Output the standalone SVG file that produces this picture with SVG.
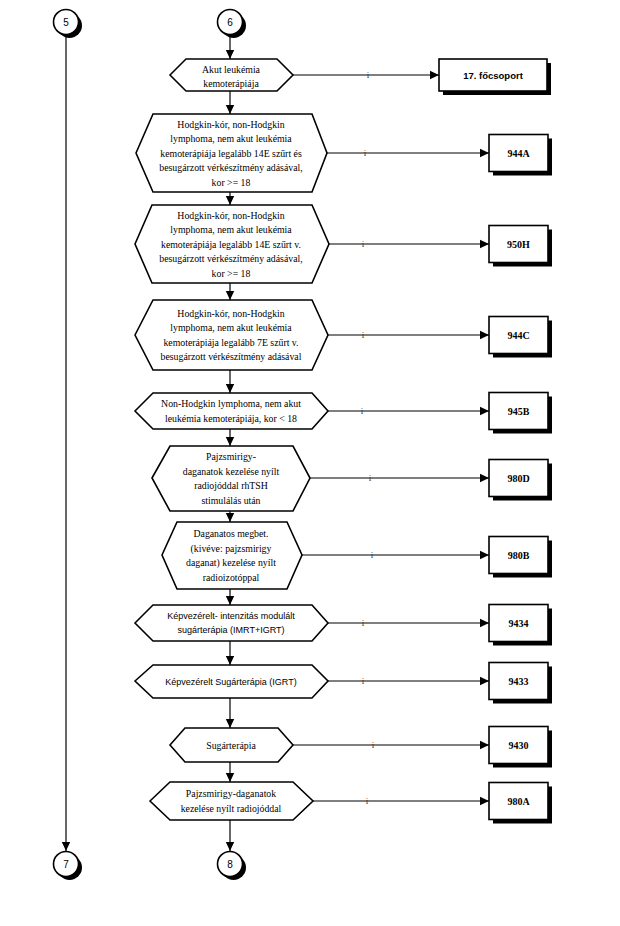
<svg xmlns="http://www.w3.org/2000/svg" width="620" height="926" viewBox="0 0 620 926">
<style>
.hex{fill:#fff;stroke:#000;stroke-width:1.6}
.box{fill:#fff;stroke:#000;stroke-width:1.6}
.sh{fill:#000}
.t{font-family:"Liberation Serif",serif;font-size:9.8px;fill:#000;text-anchor:middle}
.s{font-family:"Liberation Sans",sans-serif;font-size:9px;fill:#000;text-anchor:middle}
.b{font-family:"Liberation Serif",serif;font-size:10px;font-weight:bold;fill:#000;text-anchor:middle}
.bs{font-family:"Liberation Sans",sans-serif;font-size:9.5px;font-weight:bold;fill:#000;text-anchor:middle}
.c{font-family:"Liberation Sans",sans-serif;font-size:10px;fill:#000;text-anchor:middle}
.ln{stroke:#000;stroke-width:1.2;fill:none}
.i{font-family:"Liberation Serif",serif;font-size:9px;fill:#333;text-anchor:middle}
</style>
<defs>
<marker id="ah" markerUnits="userSpaceOnUse" markerWidth="10" markerHeight="10" refX="9" refY="5" orient="auto">
<path d="M0,0.8 L9,5 L0,9.2 Z" fill="#000"/>
</marker>
</defs>
<g id="connectors">
<line class="ln" x1="66" y1="35" x2="66" y2="851" marker-end="url(#ah)"/>
<line class="ln" x1="230" y1="35" x2="230" y2="59" marker-end="url(#ah)"/>
<line class="ln" x1="230" y1="91" x2="230" y2="114" marker-end="url(#ah)"/>
<line class="ln" x1="230" y1="192" x2="230" y2="205" marker-end="url(#ah)"/>
<line class="ln" x1="230" y1="283" x2="230" y2="300" marker-end="url(#ah)"/>
<line class="ln" x1="230" y1="370" x2="230" y2="393" marker-end="url(#ah)"/>
<line class="ln" x1="230" y1="429" x2="230" y2="446" marker-end="url(#ah)"/>
<line class="ln" x1="230" y1="511" x2="230" y2="522" marker-end="url(#ah)"/>
<line class="ln" x1="230" y1="589" x2="230" y2="605" marker-end="url(#ah)"/>
<line class="ln" x1="230" y1="641" x2="230" y2="665" marker-end="url(#ah)"/>
<line class="ln" x1="230" y1="698" x2="230" y2="728" marker-end="url(#ah)"/>
<line class="ln" x1="230" y1="762" x2="230" y2="782" marker-end="url(#ah)"/>
<line class="ln" x1="230" y1="820" x2="230" y2="851" marker-end="url(#ah)"/>
<line class="ln" x1="293" y1="75" x2="439" y2="75" marker-end="url(#ah)"/>
<line class="ln" x1="327" y1="153" x2="489" y2="153" marker-end="url(#ah)"/>
<line class="ln" x1="329" y1="244" x2="489" y2="244" marker-end="url(#ah)"/>
<line class="ln" x1="328" y1="335" x2="489" y2="335" marker-end="url(#ah)"/>
<line class="ln" x1="328" y1="411" x2="489" y2="411" marker-end="url(#ah)"/>
<line class="ln" x1="310" y1="478" x2="489" y2="478" marker-end="url(#ah)"/>
<line class="ln" x1="302" y1="555" x2="489" y2="555" marker-end="url(#ah)"/>
<line class="ln" x1="328" y1="623" x2="489" y2="623" marker-end="url(#ah)"/>
<line class="ln" x1="328" y1="681" x2="489" y2="681" marker-end="url(#ah)"/>
<line class="ln" x1="293" y1="745" x2="489" y2="745" marker-end="url(#ah)"/>
<line class="ln" x1="313" y1="801" x2="489" y2="801" marker-end="url(#ah)"/>
<text class="i" x="368" y="78">i</text>
<text class="i" x="365" y="156">i</text>
<text class="i" x="363" y="247">i</text>
<text class="i" x="363" y="338">i</text>
<text class="i" x="362" y="414">i</text>
<text class="i" x="370" y="481">i</text>
<text class="i" x="372" y="558">i</text>
<text class="i" x="363" y="626">i</text>
<text class="i" x="363" y="684">i</text>
<text class="i" x="373" y="748">i</text>
<text class="i" x="367" y="804">i</text>
</g>
<g id="c5"><circle class="sh" cx="69.5" cy="25.5" r="12.5"/><circle cx="66" cy="22" r="12.5" fill="#fff" stroke="#000" stroke-width="1.6"/><text class="c" x="66" y="25.5">5</text></g>
<g id="c6"><circle class="sh" cx="233.5" cy="25.5" r="12.5"/><circle cx="230" cy="22" r="12.5" fill="#fff" stroke="#000" stroke-width="1.6"/><text class="c" x="230" y="25.5">6</text></g>
<g id="c7"><circle class="sh" cx="69.5" cy="867.5" r="12.5"/><circle cx="66" cy="864" r="12.5" fill="#fff" stroke="#000" stroke-width="1.6"/><text class="c" x="66" y="867.5">7</text></g>
<g id="c8"><circle class="sh" cx="233.5" cy="867.5" r="12.5"/><circle cx="230" cy="864" r="12.5" fill="#fff" stroke="#000" stroke-width="1.6"/><text class="c" x="230" y="867.5">8</text></g>
<g id="d1"><polygon class="hex" points="170,75 186,59 277,59 293,75 277,91 186,91"/><text class="t" x="231" y="73">Akut leukémia</text><text class="t" x="231" y="87">kemoterápiája</text></g>
<g id="d2"><polygon class="hex" points="136,153 153,114 312,114 327,153 312,192 153,192"/><text class="t" x="231" y="127.5">Hodgkin-kór, non-Hodgkin</text><text class="t" x="231" y="142">lymphoma, nem akut leukémia</text><text class="t" x="231" y="156.5">kemoterápiája legalább  14E szűrt és</text><text class="t" x="231" y="171">besugárzott vérkészítmény adásával,</text><text class="t" x="231" y="185.5">kor &gt;= 18</text></g>
<g id="d3"><polygon class="hex" points="135,244 152,205 312,205 329,244 312,283 152,283"/><text class="t" x="231" y="218.5">Hodgkin-kór, non-Hodgkin</text><text class="t" x="231" y="233">lymphoma, nem akut leukémia</text><text class="t" x="231" y="247.5">kemoterápiája legalább 14E szűrt v.</text><text class="t" x="231" y="262">besugárzott vérkészítmény adásával,</text><text class="t" x="231" y="276.5">kor &gt;= 18</text></g>
<g id="d4"><polygon class="hex" points="135,335 153,300 312,300 328,335 312,370 153,370"/><text class="t" x="231" y="316.75">Hodgkin-kór, non-Hodgkin</text><text class="t" x="231" y="331.25">lymphoma, nem akut leukémia</text><text class="t" x="231" y="345.75">kemoterápiája legalább 7E szűrt v.</text><text class="t" x="231" y="360.25">besugárzott vérkészítmény adásával</text></g>
<g id="d5"><polygon class="hex" points="135,411 153,393 312,393 328,411 312,429 153,429"/><text class="t" x="231" y="407.25">Non-Hodgkin lymphoma, nem akut</text><text class="t" x="231" y="421.75">leukémia kemoterápiája, kor &lt; 18</text></g>
<g id="d6"><polygon class="hex" points="152,478 170,446 293,446 310,478 293,511 170,511"/><text class="t" x="231" y="460">Pajzsmirigy-</text><text class="t" x="231" y="474.5">daganatok kezelése nyílt</text><text class="t" x="231" y="489">radiojóddal rhTSH</text><text class="t" x="231" y="503.5">stimulálás után</text></g>
<g id="d7"><polygon class="hex" points="162,555 177,522 287,522 302,555 287,589 177,589"/><text class="t" x="231" y="537">Daganatos megbet.</text><text class="t" x="231" y="551.5">(kivéve: pajzsmirigy</text><text class="t" x="231" y="566">daganat) kezelése nyílt</text><text class="t" x="231" y="580.5">radioizotóppal</text></g>
<g id="d8"><polygon class="hex" points="135,623 153,605 312,605 328,623 312,641 153,641"/><text class="s" x="231" y="619">Képvezérelt- intenzitás modulált</text><text class="s" x="231" y="633">sugárterápia (IMRT+IGRT)</text></g>
<g id="d9"><polygon class="hex" points="135,681 153,665 312,665 328,681 312,698 153,698"/><text class="s" x="231" y="684.5">Képvezérelt Sugárterápia (IGRT)</text></g>
<g id="d10"><polygon class="hex" points="170,745 185,728 278,728 293,745 278,762 185,762"/><text class="t" x="231" y="748.5">Sugárterápia</text></g>
<g id="d11"><polygon class="hex" points="150,801 170,782 293,782 313,801 293,820 170,820"/><text class="t" x="231" y="797">Pajzsmirigy-daganatok</text><text class="t" x="231" y="811.5">kezelése nyílt radiojóddal</text></g>
<g id="b17"><rect class="sh" x="443" y="63" width="108" height="32"/><rect class="box" x="439" y="59" width="108" height="32"/><text class="bs" x="493" y="78.5">17. főcsoport</text></g>
<g id="b944A"><rect class="sh" x="493" y="138.5" width="59" height="37"/><rect class="box" x="489" y="134.5" width="59" height="37"/><text class="b" x="518.5" y="156.5">944A</text></g>
<g id="b950H"><rect class="sh" x="493" y="229.5" width="59" height="37"/><rect class="box" x="489" y="225.5" width="59" height="37"/><text class="b" x="518.5" y="247.5">950H</text></g>
<g id="b944C"><rect class="sh" x="493" y="320.5" width="59" height="37"/><rect class="box" x="489" y="316.5" width="59" height="37"/><text class="b" x="518.5" y="338.5">944C</text></g>
<g id="b945B"><rect class="sh" x="493" y="396.5" width="59" height="37"/><rect class="box" x="489" y="392.5" width="59" height="37"/><text class="b" x="518.5" y="414.5">945B</text></g>
<g id="b980D"><rect class="sh" x="493" y="463.5" width="59" height="37"/><rect class="box" x="489" y="459.5" width="59" height="37"/><text class="b" x="518.5" y="481.5">980D</text></g>
<g id="b980B"><rect class="sh" x="493" y="540.5" width="59" height="37"/><rect class="box" x="489" y="536.5" width="59" height="37"/><text class="b" x="518.5" y="558.5">980B</text></g>
<g id="b9434"><rect class="sh" x="493" y="608.5" width="59" height="37"/><rect class="box" x="489" y="604.5" width="59" height="37"/><text class="b" x="518.5" y="626.5">9434</text></g>
<g id="b9433"><rect class="sh" x="493" y="666.5" width="59" height="37"/><rect class="box" x="489" y="662.5" width="59" height="37"/><text class="b" x="518.5" y="684.5">9433</text></g>
<g id="b9430"><rect class="sh" x="493" y="730.5" width="59" height="37"/><rect class="box" x="489" y="726.5" width="59" height="37"/><text class="b" x="518.5" y="748.5">9430</text></g>
<g id="b980A"><rect class="sh" x="493" y="786.5" width="59" height="37"/><rect class="box" x="489" y="782.5" width="59" height="37"/><text class="b" x="518.5" y="804.5">980A</text></g>
</svg>
